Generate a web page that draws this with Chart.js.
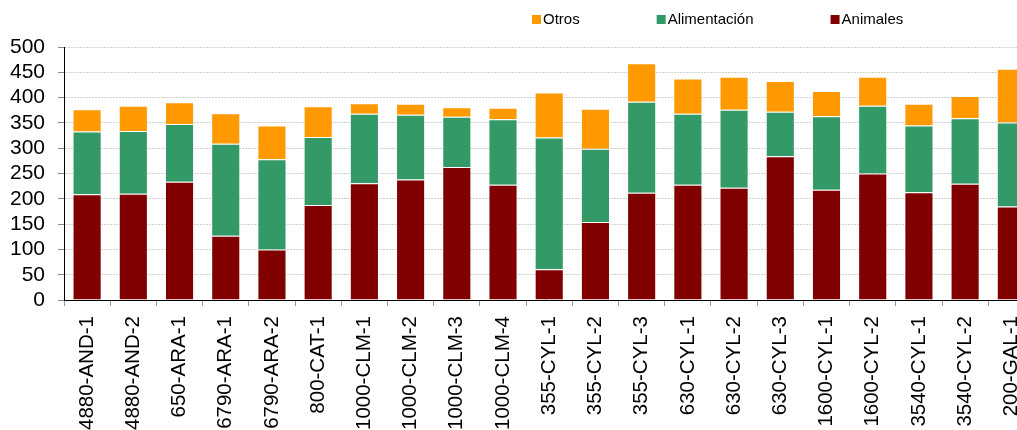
<!DOCTYPE html>
<html>
<head>
<meta charset="utf-8">
<script src="https://cdn.jsdelivr.net/npm/chart.js@4"></script>
<style>
  html, body { margin: 0; padding: 0; overflow: hidden; background: #fff; }
  #wrap { width: 1046px; height: 440px; }
</style>
</head>
<body>
<div id="wrap"><canvas id="myChart" width="1046" height="440"></canvas></div>
<script>
const categories = ['4880-AND-1', '4880-AND-2', '650-ARA-1', '6790-ARA-1', '6790-ARA-2', '800-CAT-1',
  '1000-CLM-1', '1000-CLM-2', '1000-CLM-3', '1000-CLM-4', '355-CYL-1', '355-CYL-2', '355-CYL-3',
  '630-CYL-1', '630-CYL-2', '630-CYL-3', '1600-CYL-1', '1600-CYL-2', '3540-CYL-1', '3540-CYL-2', '200-GAL-1'];

const animales     = [209, 210, 234, 127, 100, 188, 231, 238, 263, 228, 61, 154, 212, 228, 222, 284, 218, 250, 213, 230, 185];
const alimentacion = [124, 124, 114, 182, 178, 134, 137, 128, 99, 129, 260, 145, 180, 140, 154, 88, 145, 134, 132, 129, 166];
const otros        = [44, 50, 43, 60, 67, 61, 21, 22, 19, 23, 89, 79, 76, 70, 65, 61, 50, 57, 43, 44, 106];

const yTicks = [0, 50, 100, 150, 200, 250, 300, 350, 400, 450, 500];

const FONT = '"Liberation Sans", Arial, sans-serif';

// legend drawn by hand: wide gaps between items like the original
const legendPlugin = {
  id: 'wideLegend',
  afterDraw(chart) {
    const ctx = chart.ctx;
    const items = chart.data.datasets.slice().reverse();
    let x = 532;
    const y = 19.5;
    ctx.save();
    ctx.font = '15px ' + FONT;
    ctx.textBaseline = 'middle';
    ctx.textAlign = 'left';
    items.forEach(ds => {
      ctx.fillStyle = ds.backgroundColor;
      ctx.fillRect(x, y - 4.5, 9, 9);
      ctx.fillStyle = '#000';
      ctx.fillText(ds.label, x + 11, y);
      x += 11 + ctx.measureText(ds.label).width + 77;
    });
    ctx.restore();
  }
};

const ctx = document.getElementById('myChart');

new Chart(ctx, {
  type: 'bar',
  data: {
    labels: categories,
    datasets: [
      { label: 'Animales', data: animales, backgroundColor: '#800000', borderColor: 'rgba(255,255,255,0.35)', borderWidth: 1 },
      { label: 'Alimentación', data: alimentacion, backgroundColor: '#339966', borderColor: 'rgba(255,255,255,0.35)', borderWidth: 1 },
      { label: 'Otros', data: otros, backgroundColor: '#FF9900', borderColor: 'rgba(255,255,255,0.35)', borderWidth: 1 }
    ]
  },
  options: {
    responsive: false,
    animation: false,
    barPercentage: 0.63,
    categoryPercentage: 1,
    layout: { padding: { top: 47, left: 0, right: 2, bottom: 0 } },
    plugins: {
      legend: { display: false },
      tooltip: { enabled: false }
    },
    scales: {
      x: {
        stacked: true,
        border: { color: '#000', width: 1 },
        grid: { drawOnChartArea: false, drawTicks: true, tickLength: 6, color: '#999', offset: true },
        ticks: {
          autoSkip: false, maxRotation: 90, minRotation: 90, padding: 10,
          color: '#000', font: { family: FONT, size: 20.5 }
        }
      },
      y: {
        stacked: true,
        min: 0,
        max: 500,
        afterBuildTicks(scale) { scale.ticks = yTicks.map(v => ({ value: v })); },
        afterFit(scale) { scale.width = 64; },
        border: { color: '#000', width: 1, dash: [2, 1] },
        grid: { color: '#d0d0d0', tickColor: '#888', tickLength: 6 },
        ticks: { autoSkip: false, padding: 13, color: '#000', font: { family: FONT, size: 21 } }
      }
    }
  },
  plugins: [legendPlugin]
});
</script>
</body>
</html>
